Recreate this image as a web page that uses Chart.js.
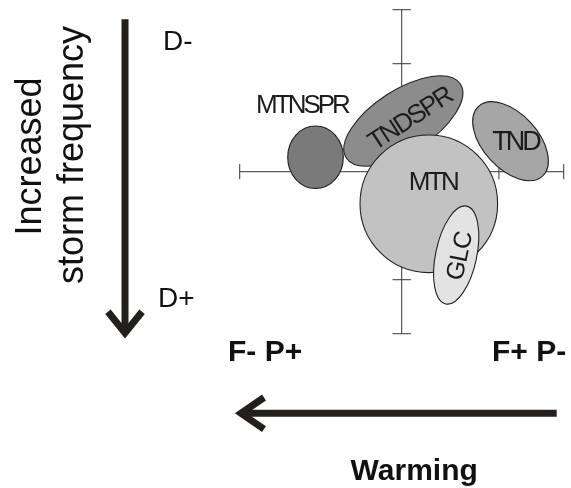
<!DOCTYPE html>
<html>
<head>
<meta charset="utf-8">
<script src="https://cdn.jsdelivr.net/npm/chart.js@4/dist/chart.umd.min.js"></script>
<style>
  html, body { margin: 0; padding: 0; background: #ffffff; }
  canvas { display: block; }
</style>
</head>
<body>
<canvas id="c" width="571" height="488"></canvas>
<script>
// ---- data (diagram units; axis cross runs from -3 to 3) ----
const groups      = ['MTNSPR', 'TNDSPR', 'TND', 'MTN', 'GLC'];
const groupX      = [-1.596, 0.030, 2.015, 0.502, 1.009];
const groupY      = [0.269, 0.939, 0.565, -0.594, -1.543];
const spreadX     = [0.515, 1.259, 0.876, 1.274, 0.380];
const spreadY     = [0.578, 0.574, 0.507, 1.274, 0.926];
const tiltDeg     = [0, -33, 47.5, 0, 12];
const labelX      = [-1.874, 0.122, 2.080, 0.556, 1.048];
const labelY      = [1.254, 0.989, 0.587, -0.172, -1.561];
const labelTilt   = [0, -33, 0, 0, -78];
const xTicks      = [-3, -1.8, 1.8, 3];
const yTicks      = [-3, -2, 2, 3];
const axisLimit   = 3;

const stormArrowX = -5.124, stormArrowTop = 2.822, stormArrowTip = -2.987;
const stormHead   = [{x: -5.440, y: -2.593}, {x: -5.124, y: -2.987}, {x: -4.808, y: -2.593}];
const warmArrowY  = -4.474, warmArrowStart = 2.870, warmArrowTip = -2.976;
const warmHead    = [{x: -2.550, y: -4.181}, {x: -2.976, y: -4.474}, {x: -2.550, y: -4.765}];

const sideTexts = [
  {t: 'Increased',       x: -6.680, y: 0.281,  rot: -90, size: 36, bold: false, align: 'center'},
  {t: 'storm frequency', x: -5.902, y: 0.309,  rot: -90, size: 36, bold: false, align: 'center'},
  {t: 'D-',              x: -4.420, y: 2.254,  rot: 0,   size: 28, bold: false, align: 'left'},
  {t: 'D+',              x: -4.513, y: -2.506, rot: 0,   size: 28, bold: false, align: 'left'},
  {t: 'F- P+',           x: -3.217, y: -3.500, rot: 0,   size: 30, bold: true,  align: 'left'},
  {t: 'F+ P-',           x: 1.672,  y: -3.506, rot: 0,   size: 30, bold: true,  align: 'left'},
  {t: 'Warming',         x: 0.231,  y: -5.707, rot: 0,   size: 30, bold: true,  align: 'center'}
];

// ---- styles ----
const fills = ['#7a7a7a', '#8c8c8c', '#a6a6a6', '#c2c2c2', '#e3e3e3'];
const labelSizes = [26, 26, 27, 26, 25];
const labelSpacing = [-3, -2.2, -3, -2.6, -0.8];
const FONT = '"Liberation Sans", Arial, sans-serif';
const ink = '#1c1c1c';

function seg(a, b, width, color) {
  return {data: [a, b], showLine: true, borderColor: color, borderWidth: width,
          pointRadius: 0, borderCapStyle: 'butt', borderJoinStyle: 'miter', fill: false};
}

const datasets = [];
// axis cross
datasets.push(seg({x: -axisLimit, y: 0}, {x: axisLimit, y: 0}, 1, '#333'));
datasets.push(seg({x: 0, y: -axisLimit}, {x: 0, y: axisLimit}, 1, '#333'));
xTicks.forEach(v => datasets.push(seg({x: v, y: -0.14}, {x: v, y: 0.14}, 1, '#333')));
yTicks.forEach(v => datasets.push(seg({x: -0.17, y: v}, {x: 0.17, y: v}, 1, '#333')));
// arrows
datasets.push(seg({x: stormArrowX, y: stormArrowTop}, {x: stormArrowX, y: stormArrowTip}, 7, '#231f1c'));
datasets.push({data: stormHead, showLine: true, borderColor: '#231f1c', borderWidth: 7, pointRadius: 0,
               borderCapStyle: 'butt', borderJoinStyle: 'miter', fill: false});
datasets.push(seg({x: warmArrowStart, y: warmArrowY}, {x: warmArrowTip, y: warmArrowY}, 7, '#231f1c'));
datasets.push({data: warmHead, showLine: true, borderColor: '#231f1c', borderWidth: 7, pointRadius: 0,
               borderCapStyle: 'butt', borderJoinStyle: 'miter', fill: false});

const diagramPlugin = {
  id: 'diagram',
  afterDatasetsDraw(chart) {
    const ctx = chart.ctx;
    const xs = chart.scales.x, ys = chart.scales.y;
    const unitX = Math.abs(xs.getPixelForValue(1) - xs.getPixelForValue(0));
    const unitY = Math.abs(ys.getPixelForValue(1) - ys.getPixelForValue(0));
    // ellipses
    groups.forEach((g, i) => {
      ctx.save();
      ctx.beginPath();
      ctx.ellipse(xs.getPixelForValue(groupX[i]), ys.getPixelForValue(groupY[i]),
                  spreadX[i] * unitX, spreadY[i] * unitY, tiltDeg[i] * Math.PI / 180, 0, Math.PI * 2);
      ctx.fillStyle = fills[i];
      ctx.fill();
      ctx.lineWidth = 1.1;
      ctx.strokeStyle = '#222';
      ctx.stroke();
      ctx.restore();
    });
    // group labels
    groups.forEach((g, i) => {
      ctx.save();
      ctx.translate(xs.getPixelForValue(labelX[i]), ys.getPixelForValue(labelY[i]));
      ctx.rotate(labelTilt[i] * Math.PI / 180);
      const size = labelSizes[i];
      ctx.font = size + 'px ' + FONT;
      ctx.letterSpacing = labelSpacing[i] + 'px';
      ctx.fillStyle = ink;
      ctx.textAlign = 'center';
      ctx.textBaseline = 'alphabetic';
      ctx.fillText(g, -labelSpacing[i] / 2, size * 0.716 / 2);
      ctx.restore();
    });
    // surrounding annotation texts
    sideTexts.forEach(s => {
      ctx.save();
      ctx.translate(xs.getPixelForValue(s.x), ys.getPixelForValue(s.y));
      ctx.rotate(s.rot * Math.PI / 180);
      ctx.font = (s.bold ? 'bold ' : '') + s.size + 'px ' + FONT;
      ctx.fillStyle = '#111';
      ctx.textAlign = s.align;
      ctx.textBaseline = 'alphabetic';
      ctx.fillText(s.t, 0, 0);
      ctx.restore();
    });
  }
};

new Chart(document.getElementById('c'), {
  type: 'scatter',
  data: {datasets},
  options: {
    responsive: false,
    devicePixelRatio: 1,
    animation: false,
    layout: {padding: 0},
    plugins: {legend: {display: false}, tooltip: {enabled: false}},
    scales: {
      x: {type: 'linear', display: false, min: -7.439, max: 3.135},
      y: {type: 'linear', display: false, min: -5.857, max: 3.180}
    }
  },
  plugins: [diagramPlugin]
});
</script>
</body>
</html>
